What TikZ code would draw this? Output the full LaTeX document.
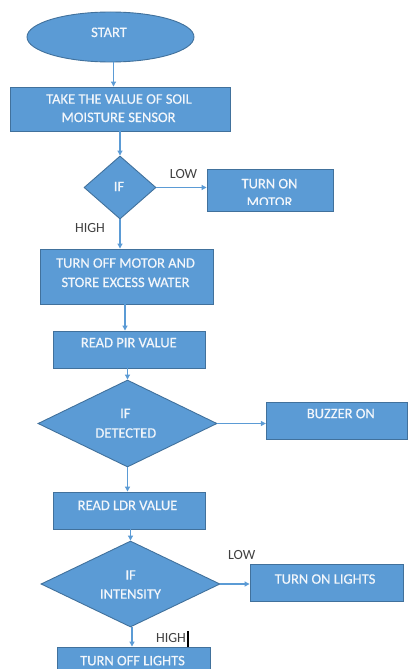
\documentclass[tikz,border=0pt]{standalone}
\usepackage{fontspec}
\setmainfont{Carlito}
\newfontfamily\boxfont[FakeBold=0.4]{Carlito}
\usetikzlibrary{shapes.geometric,arrows.meta,calc}
\definecolor{boxfill}{HTML}{5B9BD5}
\definecolor{boxline}{HTML}{41719C}
\definecolor{arrcol}{HTML}{5B9BD5}
\definecolor{labcol}{HTML}{404040}
\definecolor{txtcol}{HTML}{F2F6FB}
\begin{document}
\begin{tikzpicture}[x=1pt,y=-1pt,
  shapebox/.style={draw=boxline,fill=boxfill,line width=0.9pt,inner sep=0pt},
  rbox/.style={shapebox,rectangle},
  dbox/.style={shapebox,diamond},
  ebox/.style={shapebox,ellipse},
  txt/.style={font=\boxfont\fontsize{14.5}{17}\selectfont,text=txtcol,inner sep=0pt,text height=9pt,text depth=0pt},
  lab/.style={font=\fontsize{14}{16}\selectfont,text=labcol,inner sep=0pt,text height=8.8pt,text depth=0pt},
  arr/.style={draw=arrcol,line width=1.1pt,-{Triangle[width=5pt,length=5pt]}}]
\useasboundingbox[fill=white] (0,0) rectangle (408,669);

% shapes
\node[ebox,minimum width=167,minimum height=50] (start) at (110.5,37) {};
\node[rbox,minimum width=220,minimum height=44] (b1) at (120,109) {};
\node[dbox,minimum width=72,minimum height=63] (d1) at (120,187.5) {};
\node[rbox,minimum width=126,minimum height=42] (motor) at (270,190) {};
\node[rbox,minimum width=173,minimum height=55] (b2) at (126.5,276.5) {};
\node[rbox,minimum width=152,minimum height=37] (b3) at (129,349.5) {};
\node[dbox,minimum width=179,minimum height=87] (d2) at (127.5,423.5) {};
\node[rbox,minimum width=141,minimum height=37] (buzz) at (336.8,420.5) {};
\node[rbox,minimum width=152,minimum height=37] (b4) at (129,510.5) {};
\node[dbox,minimum width=179,minimum height=86] (d3) at (130.5,584) {};
\node[rbox,minimum width=153,minimum height=37] (lights) at (326.5,582.5) {};
\node[rbox,minimum width=153,minimum height=36] (b5) at (133.5,665) {};

% connectors
\draw[arr] ([xshift=3]start.south) -- ([xshift=3]start.south |- b1.north);
\draw[arr] (b1.south) -- (d1.north);
\draw[arr] (d1.east) -- (motor.west |- d1.east);
\draw[arr] (d1.south) -- (d1.south |- b2.north);
\draw[arr] ([xshift=-1.5]b2.south) -- ([xshift=-1.5]b2.south |- b3.north);
\draw[arr] (d2.north |- b3.south) -- (d2.north);
\draw[arr] (d2.east) -- (buzz.west |- d2.east);
\draw[arr] (d2.south) -- (d2.south |- b4.north);
\draw[arr] (d3.north |- b4.south) -- (d3.north);
\draw[arr] (d3.east) -- (lights.west |- d3.east);
\draw[arr] ([xshift=1.5]d3.south) -- ([xshift=1.5]d3.south |- b5.north);

% texts
\node[txt] (tstart) at (109,32.5) {START};
\node[txt] (t1a) at (119,99.2) {TAKE THE VALUE OF SOIL};
\node[txt] (t1b) at (118.5,117.5) {MOISTURE SENSOR};
\node[txt] (tif1) at (119,186.7) {IF};
\node[txt] (tm1) at (269.5,183.8) {TURN ON};
\begin{scope}
  \clip (208,170) rectangle (332,204.5);
  \node[txt] (tm2) at (269.5,202.2) {MOTOR};
\end{scope}
\node[txt] (t2a) at (125.5,263.2) {TURN OFF MOTOR AND};
\node[txt] (t2b) at (125.5,282.5) {STORE EXCESS WATER};
\node[txt] (t3) at (128.8,342.8) {READ PIR VALUE};
\node[txt] (tif2a) at (125.3,413.5) {IF};
\node[txt] (tif2b) at (125.8,433.2) {DETECTED};
\node[txt] (tbuzz) at (340.8,413.7) {BUZZER ON};
\node[txt] (t4) at (127.5,505.5) {READ LDR VALUE};
\node[txt] (tif3a) at (130.7,575.2) {IF};
\node[txt] (tif3b) at (130.5,594.2) {INTENSITY};
\node[txt] (tlights) at (325,579.2) {TURN ON LIGHTS};
\node[txt] (t5) at (132.5,660.8) {TURN OFF LIGHTS};

% labels
\node[lab] (low1) at (183.5,174) {LOW};
\node[lab] (high1) at (90,228.5) {HIGH};
\node[lab] (low2) at (241.7,555.3) {LOW};
\node[lab] (high2) at (171,638) {HIGH};
\fill[black] (187,631) rectangle (189,647);
\end{tikzpicture}
\end{document}
